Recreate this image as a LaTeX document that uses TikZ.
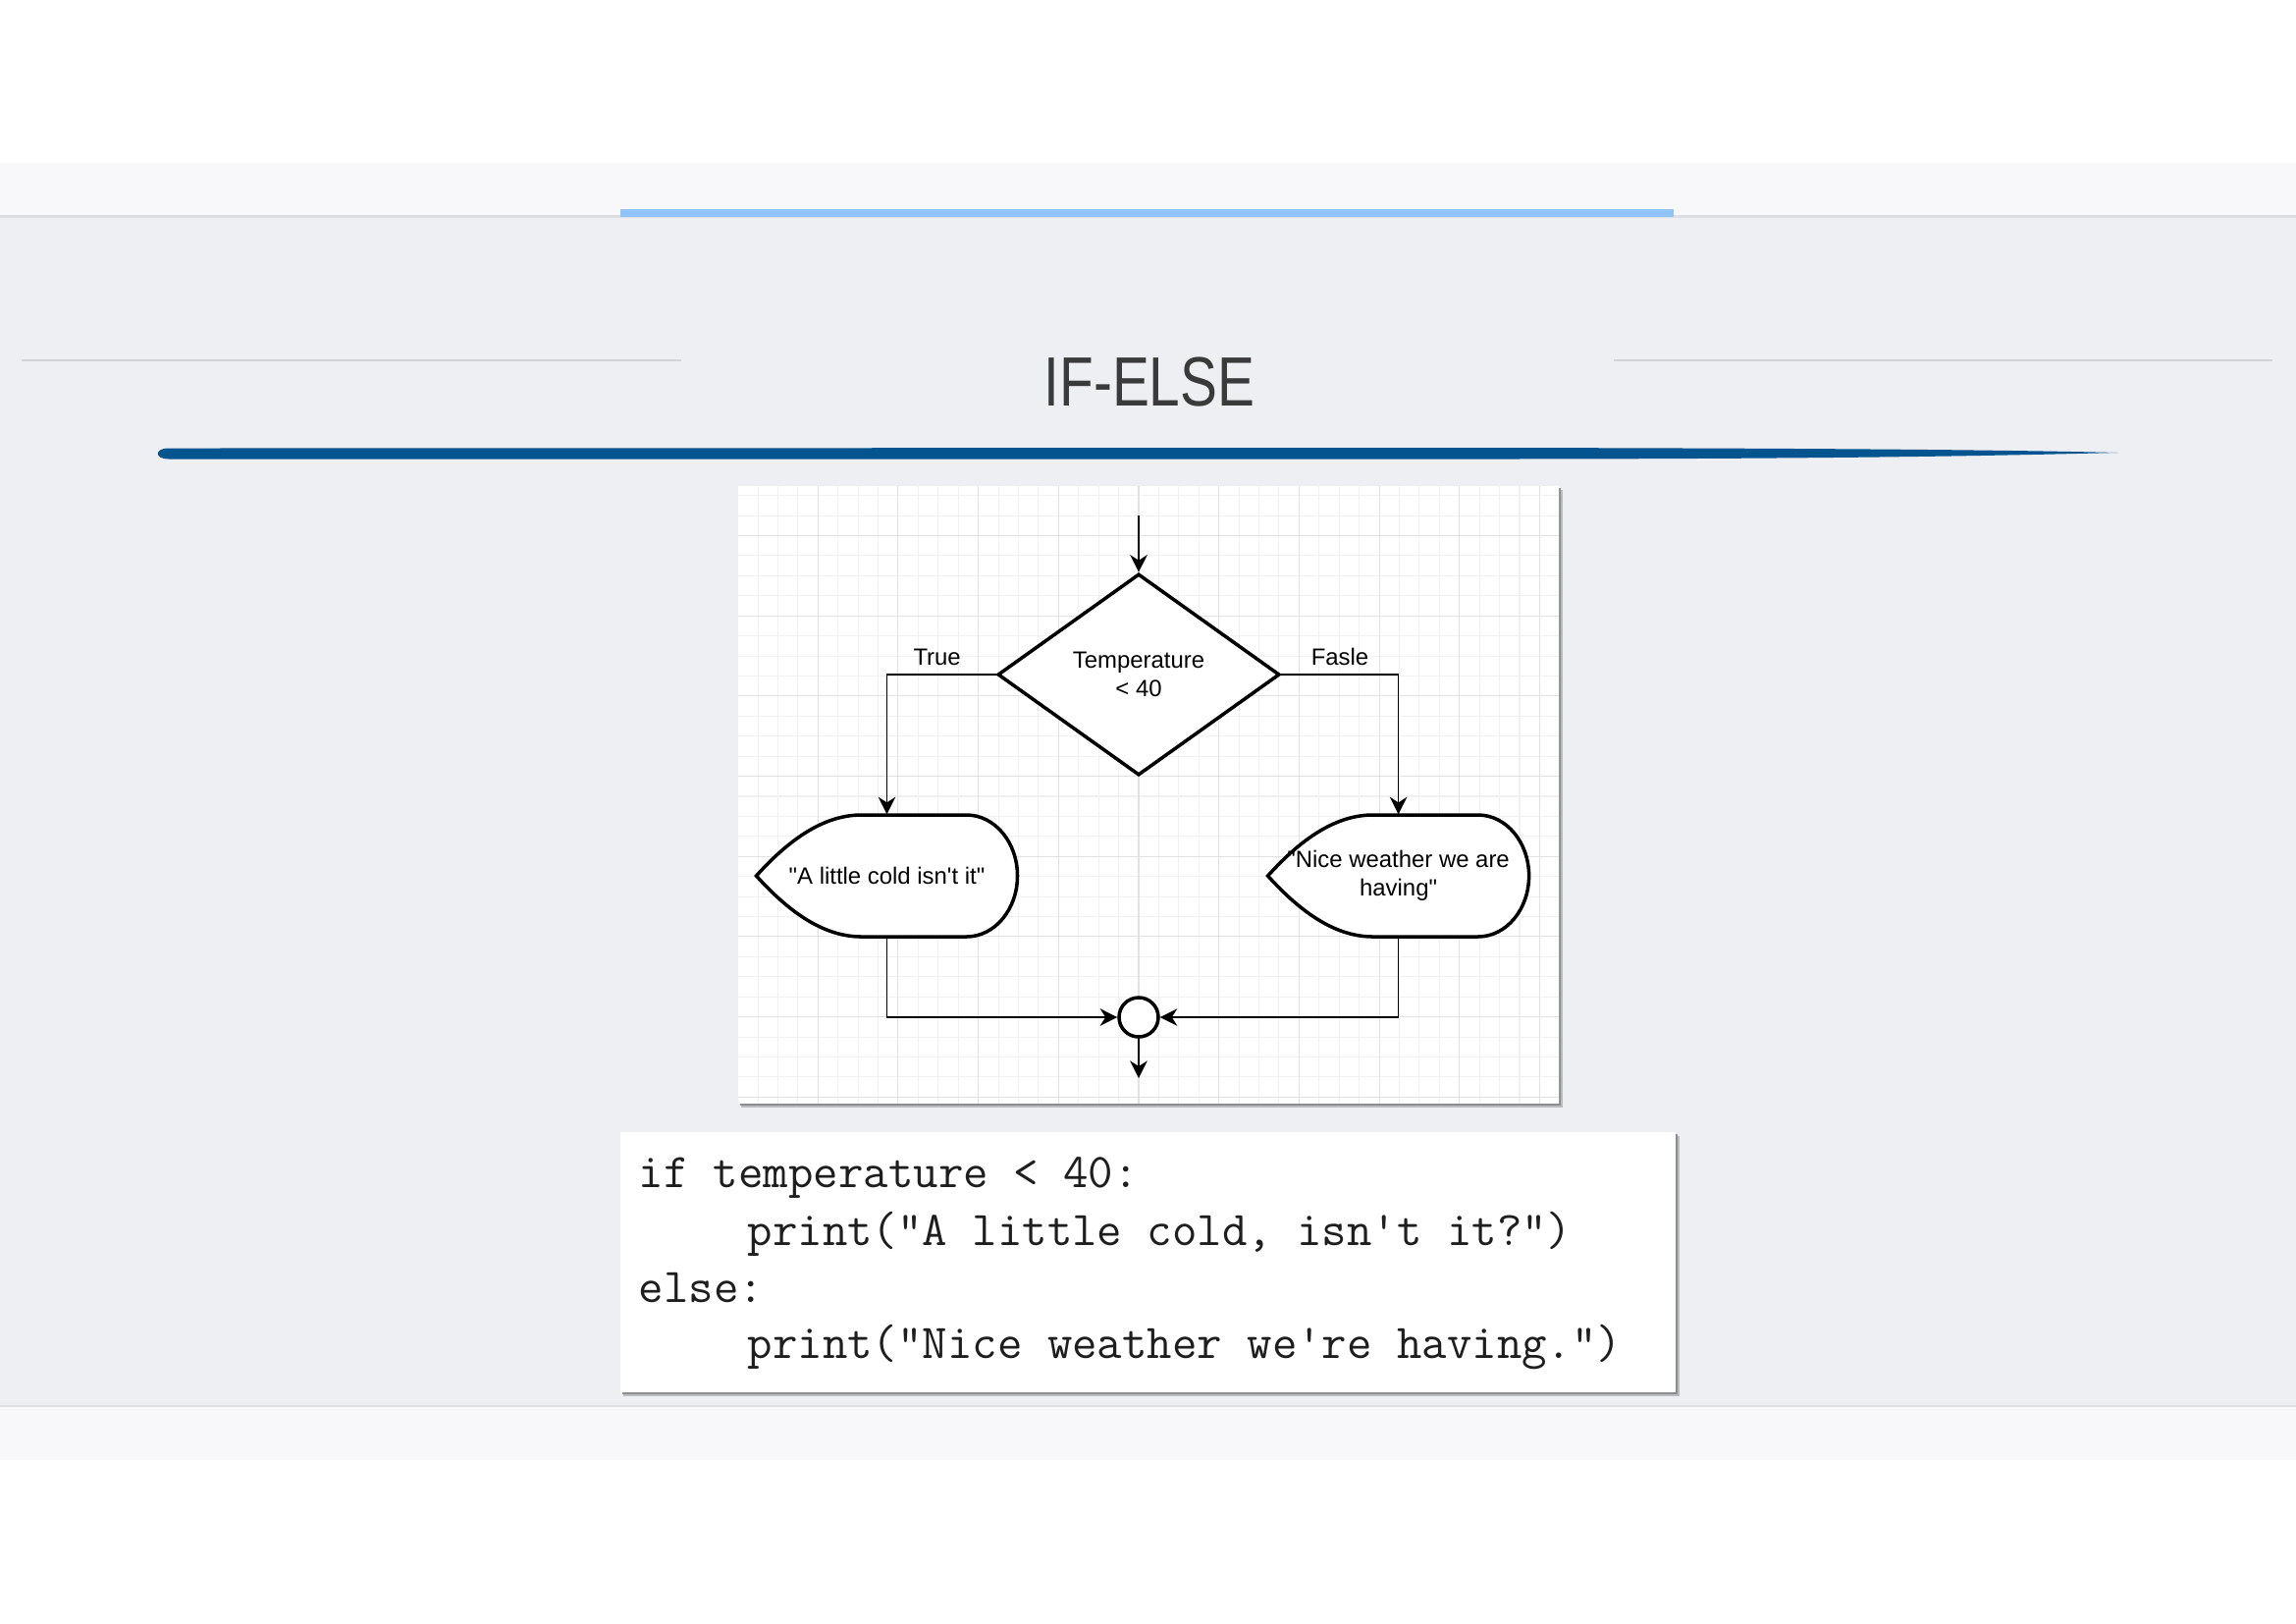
\documentclass[tikz,border=0pt]{standalone}
\usepackage{fontspec}
\usepackage{graphicx}
\setmainfont{Liberation Sans}[Ligatures=TeXOff]
\usetikzlibrary{shapes.geometric,arrows.meta,calc}

\definecolor{slidegrey}{HTML}{EEEFF2}
\definecolor{bandgrey}{HTML}{F8F8FA}
\definecolor{bandline}{HTML}{DDDEE2}
\definecolor{barblue}{HTML}{90C4F9}
\definecolor{brushblue}{HTML}{03548F}
\definecolor{rulegrey}{HTML}{D3D4D7}
\definecolor{titlegrey}{HTML}{3A3A3A}
\definecolor{gridminor}{HTML}{F1F1F1}
\definecolor{gridmajor}{HTML}{E2E2E2}
\definecolor{shadowgrey}{HTML}{8C8D90}
\definecolor{codeblack}{HTML}{1E1E1E}

\tikzset{
  flowline/.style={line width=0.5pt,-{Stealth[length=5pt,width=5pt,inset=1.6pt]}},
  outline/.style={line width=1pt,draw=black,fill=white},
  diagramfont/.style={font=\fontsize{6.8}{8.2}\selectfont},
  decision/.style={diamond,outline,diagramfont,minimum width=2.87cm,minimum height=2.05cm,inner sep=0pt,align=center},
  dispbox/.style={diagramfont,minimum width=2.66cm,minimum height=1.24cm,inner sep=0pt,align=center},
  joinpoint/.style={circle,outline,minimum size=0.4cm,inner sep=0pt},
  branchlabel/.style={diagramfont,inner sep=2.5pt},
  codeline/.style={anchor=base west,inner sep=0pt,text=codeblack,font=\ttfamily\fontsize{14.05}{16}\selectfont\addfontfeatures{FakeBold=1.5}},
  gridthin/.style={draw=gridminor,line width=0.3pt},
  gridthick/.style={draw=gridmajor,line width=0.3pt},
}

\begin{document}
\begin{tikzpicture}[x=0.01cm,y=-0.01cm]
  \useasboundingbox (0,0) rectangle (2339,1653);

  % Slide background
  \fill[white] (0,0) rectangle (2339,1653);
  \fill[bandgrey] (0,166) rectangle (2339,221);
  \fill[slidegrey] (0,221) rectangle (2339,1432);
  \fill[bandline] (0,219) rectangle (2339,222);
  \fill[bandgrey] (0,1432) rectangle (2339,1487);
  \fill[bandline] (0,1431) rectangle (2339,1433);
  \fill[barblue] (632,213) rectangle (1705,221);

  % Title
  \draw[rulegrey,line width=0.6pt] (22,367) -- (694,367);
  \draw[rulegrey,line width=0.6pt] (1644,367) -- (2315,367);
  \node[anchor=base,inner sep=0pt,text=titlegrey,font=\fontsize{20.2}{24}\selectfont] (title) at (1171,413) {\scalebox{0.8}[1]{IF-ELSE}};
  \fill[brushblue] (172,456.5) -- (1500,456) .. controls (1900,456.5) and (2050,458.5) .. (2158,461)
    .. controls (2050,463.5) and (1900,467.5) .. (1500,467.5) -- (172,467.5)
    .. controls (157,467.5) and (157,456.5) .. (172,456.5) -- cycle;

  % Panels with shadow
  \fill[shadowgrey!60] (755,499) rectangle (1592,1128);
  \fill[shadowgrey] (754,497) rectangle (1590,1126);
  \fill[white] (752,495) rectangle (1588,1124);
  \fill[shadowgrey!60] (635,1157) rectangle (1711,1422);
  \fill[shadowgrey] (634,1155) rectangle (1709,1420);
  \fill[white] (632,1153) rectangle (1707,1418);

  % Grid
  \begin{scope}
    \clip (752,495) rectangle (1588,1124);
    \foreach \k in {-20,...,21}
      \draw[gridthin] ({1160+20.42*\k},495) -- ({1160+20.42*\k},1124);
    \foreach \k in {-27,...,5}
      \draw[gridthin] (752,{1035.6+20.42*\k}) -- (1588,{1035.6+20.42*\k});
    \foreach \k in {-5,...,5}
      \draw[gridthick] ({1160+81.68*\k},495) -- ({1160+81.68*\k},1124);
    \foreach \k in {-6,...,1}
      \draw[gridthick] (752,{1035.6+81.68*\k}) -- (1588,{1035.6+81.68*\k});
  \end{scope}

  % Display shapes
  \coordinate (coldc) at (903.5,892);
  \coordinate (nicec) at (1424.6,892);
  \foreach \c in {coldc,nicec}
    \draw[outline] ($(\c)+(-133,0)$) .. controls ($(\c)+(-97,-40)$) and ($(\c)+(-62,-62)$) .. ($(\c)+(-26,-62)$)
      -- ($(\c)+(81,-62)$) .. controls ($(\c)+(110,-62)$) and ($(\c)+(133,-34)$) .. ($(\c)+(133,0)$)
      .. controls ($(\c)+(133,34)$) and ($(\c)+(110,62)$) .. ($(\c)+(81,62)$)
      -- ($(\c)+(-26,62)$) .. controls ($(\c)+(-62,62)$) and ($(\c)+(-97,40)$) .. ($(\c)+(-133,0)$) -- cycle;

  % Nodes
  \coordinate (entry) at (1160,525);
  \coordinate (exit) at (1160,1098);
  \node[decision] (cond) at (1160,687) {Temperature\\< 40};
  \node[dispbox] (cold) at (coldc) {"A little cold isn't it"};
  \node[dispbox] (nice) at (nicec) {"Nice weather we are\\having"};
  \node[joinpoint] (join) at (1160,1036) {};

  % Connectors
  \draw[flowline] (entry) -- (cond);
  \draw[flowline] (cond.west) -| node[branchlabel,above,pos=0.27] (truelbl) {True} (cold.north);
  \draw[flowline] (cond.east) -| node[branchlabel,above,pos=0.25] (falselbl) {Fasle} (nice.north);
  \draw[flowline] (cold.south) |- (join.west);
  \draw[flowline] (nice.south) |- (join.east);
  \draw[flowline] (join) -- (exit);

  % Code
  \node[codeline] (code1) at (650,1209) {if temperature < 40:};
  \node[codeline] (code2) at (761,1268) {print("A little cold, isn't it?")};
  \node[codeline] (code3) at (650,1326) {else:};
  \node[codeline] (code4) at (761,1383) {print("Nice weather we're having.")};

\end{tikzpicture}
\end{document}
